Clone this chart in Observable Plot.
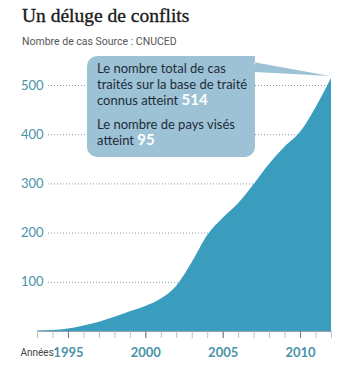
<!DOCTYPE html>
<html><head><meta charset="utf-8">
<script src="https://cdn.jsdelivr.net/npm/d3@7"></script>
<script src="https://cdn.jsdelivr.net/npm/@observablehq/plot@0.6"></script>
<style>
body{margin:0;background:#fff;}
#wrap{position:relative;width:359px;height:371px;overflow:hidden;background:#fff;}
#head{height:55px;position:relative;}
#title{position:absolute;left:22px;top:5px;font-family:"Liberation Serif";font-size:19.5px;color:#1a1a1a;-webkit-text-stroke:0.35px #1a1a1a;white-space:nowrap;}
#sub{position:absolute;left:22px;top:35px;font-family:Roboto;font-size:10.5px;color:#555;white-space:nowrap;}
#callout{position:absolute;left:87px;top:56px;width:168px;height:101px;background:#9ec2d5;border-radius:10px;box-sizing:border-box;padding:5px 0 0 10px;font-family:Lato;font-size:13px;line-height:15.5px;color:#1d2d38;}
#callout p{margin:0 0 8px 0;white-space:nowrap;}
#callout b{color:#fff;font-size:15px;}
#pointer{position:absolute;left:0;top:0;pointer-events:none;}
</style></head>
<body>
<div id="wrap">
  <div id="head">
    <div id="title">Un déluge de conflits</div>
    <div id="sub">Nombre de cas Source : CNUCED</div>
  </div>
  <div id="chart"></div>
  <svg id="pointer" width="359" height="371"></svg>
  <div id="callout">
    <p>Le nombre total de cas<br>traités sur la base de traité<br>connus atteint <b>514</b></p>
    <p>Le nombre de pays visés<br>atteint <b>95</b></p>
  </div>
</div>
<script>
const years = [1993,1994,1995,1996,1997,1998,1999,2000,2001,2002,2003,2004,2005,2006,2007,2008,2009,2010,2011,2012];
const cases = [1,2,5,11,19,29,40,51,66,92,140,195,230,260,299,340,375,405,455,514];
const yTicks = [100,200,300,400,500];
const xLabels = [1995,2000,2005,2010];
const xLabelText = "Années";

const data = years.map((year, i) => ({year, value: cases[i]}));
const teal = "#4a93a9";

const chart = Plot.plot({
  width: 359,
  height: 316,
  marginTop: 30,
  marginBottom: 40,
  marginLeft: 37,
  marginRight: 28,
  style: {fontFamily: "Lato", background: "transparent"},
  x: {domain: [years[0], years[years.length - 1]], label: null},
  y: {domain: [0, 500], label: null},
  marks: [
    Plot.gridY(yTicks, {stroke: "#8a9aa3", strokeOpacity: 1, strokeDasharray: "1,2", insetLeft: 11}),
    Plot.areaY(data, {x: "year", y: "value", fill: "#3a9dbd", curve: "monotone-x"}),
    Plot.ruleY([0], {stroke: "#9aa5ab"}),
    Plot.axisY(yTicks, {label: null, tickSize: 0, tickPadding: 0, dx: 6, fill: teal, fontSize: 13, tickFormat: d => `${d}`}),
    Plot.axisX(years, {label: null, tickSize: 7, stroke: "#b8c0c4", tickFormat: () => ""}),
    Plot.axisX(xLabels, {label: null, tickSize: 7, tickPadding: 9, stroke: "#6d7a80", fill: teal, fontSize: 13, fontWeight: "bold", tickFormat: d => `${d}`}),
    Plot.text([xLabelText], {frameAnchor: "bottom-left", textAnchor: "start", dx: -17, dy: 24, fontSize: 10, fill: "#444", fontFamily: "Roboto"})
  ]
});
document.getElementById("chart").appendChild(chart);

// pointer of the callout, aimed at the last data point
const tipX = chart.scale("x").apply(years[years.length - 1]);
const tipY = chart.scale("y").apply(cases[cases.length - 1]) + 55;
const ns = "http://www.w3.org/2000/svg";
const poly = document.createElementNS(ns, "polygon");
poly.setAttribute("points", `220,56 255,56 255,72 ${tipX - 1},${tipY - 2}`);
poly.setAttribute("fill", "#9ec2d5");
document.getElementById("pointer").appendChild(poly);
</script>
</body></html>
